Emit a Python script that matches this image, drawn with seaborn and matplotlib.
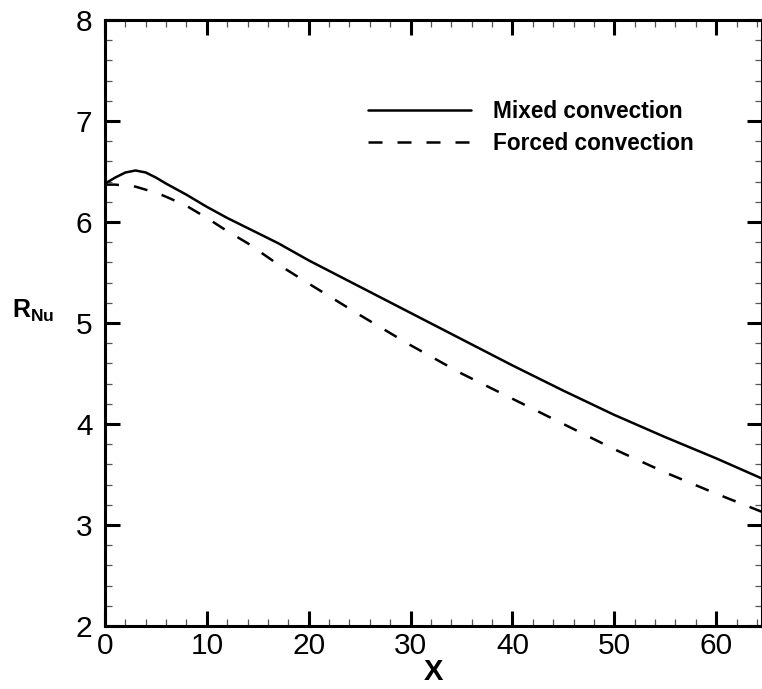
import pandas as pd
import matplotlib
matplotlib.use("Agg")
import matplotlib.pyplot as plt
from matplotlib.ticker import MultipleLocator
import seaborn as sns

# values
x_vals = [0, 1, 2, 3, 4, 5, 6, 8, 10, 12, 14, 17, 20, 25, 30, 35, 40, 45, 50, 55, 60, 64.5]
mixed = [6.38, 6.44, 6.49, 6.51, 6.49, 6.44, 6.38, 6.27, 6.15, 6.04, 5.94, 5.79,
         5.62, 5.36, 5.10, 4.84, 4.58, 4.33, 4.09, 3.87, 3.66, 3.46]
forced = [6.37, 6.37, 6.36, 6.35, 6.32, 6.29, 6.25, 6.16, 6.04, 5.91, 5.79, 5.58,
          5.39, 5.08, 4.78, 4.50, 4.25, 4.00, 3.75, 3.52, 3.31, 3.13]
series_names = ["Mixed convection", "Forced convection"]

df = pd.concat([
    pd.DataFrame({"X": x_vals, "R": mixed, "case": series_names[0]}),
    pd.DataFrame({"X": x_vals, "R": forced, "case": series_names[1]}),
])

sns.set_style("ticks")
plt.rcParams["font.family"] = ["Liberation Sans", "DejaVu Sans"]
plt.rcParams["mathtext.fontset"] = "custom"
plt.rcParams["mathtext.bf"] = "Liberation Sans:bold"
plt.rcParams["mathtext.rm"] = "Liberation Sans"
plt.rcParams["text.color"] = "black"
plt.rcParams["axes.labelcolor"] = "black"
plt.rcParams["xtick.color"] = "black"
plt.rcParams["ytick.color"] = "black"

fig = plt.figure(figsize=(7.62, 6.89), dpi=100)
ax = fig.add_axes([105 / 762, 1 - 626 / 689, 1 - 105 / 762, (626 - 20) / 689])

sns.lineplot(data=df, x="X", y="R", hue="case", style="case",
             palette=["black", "black"], dashes=[(None, None), (5.6, 6)],
             linewidth=1.8, ax=ax, sort=False)

ax.set_xlim(0, 64.5)
ax.set_ylim(2, 8)
ax.xaxis.set_major_locator(MultipleLocator(10))
ax.xaxis.set_minor_locator(MultipleLocator(2))
ax.yaxis.set_major_locator(MultipleLocator(1))
ax.yaxis.set_minor_locator(MultipleLocator(0.2))

for s in ax.spines.values():
    s.set_linewidth(2.2)
    s.set_color("black")

ax.tick_params(which="both", direction="in", top=True, right=True, labelsize=21.5)
ax.tick_params(which="major", length=10.5, width=2.2)
ax.tick_params(axis="x", which="major", pad=4)
ax.tick_params(axis="y", which="major", pad=9)
ax.tick_params(which="minor", length=5, width=0.9, color="#555555")

ax.set_xlabel("X", fontsize=21, fontweight="bold", labelpad=-1)
ax.set_ylabel(r"$\mathbf{R}_{\mathbf{Nu}}$", fontsize=18, rotation=0,
              ha="left", va="center")
ax.yaxis.set_label_coords(-0.142, 0.52)

ax.legend(frameon=False, loc="upper left", bbox_to_anchor=(0.40, 0.868),
          borderaxespad=0, borderpad=0, handlelength=4.55, handletextpad=1.0,
          labelspacing=0.4, prop={"size": 16.3, "weight": "bold"})

fig.savefig("out.png", dpi=100)
